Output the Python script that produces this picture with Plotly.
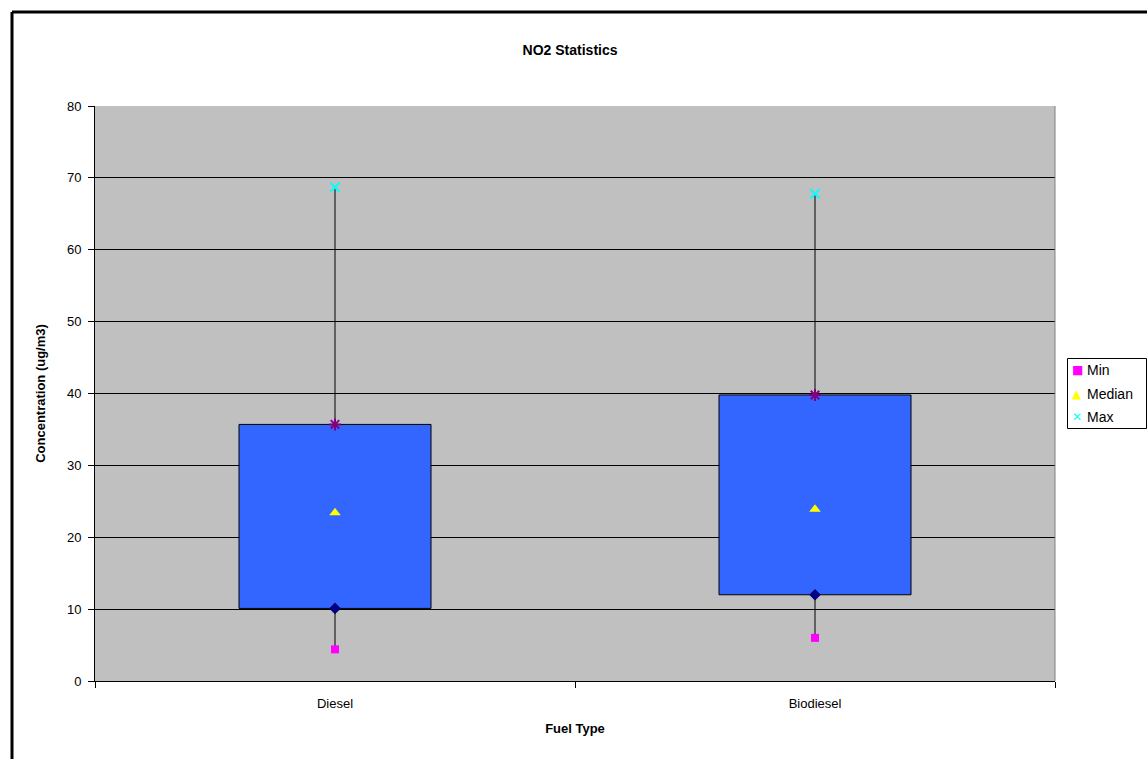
import plotly.graph_objects as go

# NO2 concentration summary per fuel type (ug/m3)
fuel_types = ["Diesel", "Biodiesel"]
min_vals = [4.4, 6.0]
q1_vals = [10.1, 12.0]
median_vals = [23.4, 23.9]
q3_vals = [35.7, 39.8]
max_vals = [68.7, 67.8]

y_ticks = [0, 10, 20, 30, 40, 50, 60, 70, 80]

legend_names = ["Min", "Median", "Max"]
legend_glyphs = ["■", "▲", "✕"]
legend_colors = ["#FF00FF", "#FFFF00", "#00FFFF"]

FONT = "Liberation Sans, Arial, sans-serif"
W, H = 1147, 759
ML, MR, MT, MB = 95, 92, 106, 78
PW, PH = W - ML - MR, H - MT - MB


def px_x(x):
    """Pixel column -> paper x."""
    return (x - ML) / PW


def px_y(y):
    """Pixel row -> paper y."""
    return (H - MB - y) / PH


fig = go.Figure()

# Interquartile box drawn as a floating column from Q1 to Q3
fig.add_trace(go.Bar(
    x=fuel_types,
    y=[q3 - q1 for q1, q3 in zip(q1_vals, q3_vals)],
    base=q1_vals,
    width=0.4,
    marker=dict(color="#3366FF", line=dict(color="#000000", width=1)),
    showlegend=False,
    hoverinfo="skip",
))

# Whiskers: Q1 down to min, Q3 up to max
for cat, lo, q1, q3, hi in zip(fuel_types, min_vals, q1_vals, q3_vals, max_vals):
    for a, b in ((lo, q1), (q3, hi)):
        fig.add_trace(go.Scatter(
            x=[cat, cat], y=[a, b], mode="lines",
            line=dict(color="#000000", width=1),
            showlegend=False, hoverinfo="skip",
        ))

# Quartile markers
fig.add_trace(go.Scatter(
    x=fuel_types, y=q1_vals, mode="markers", showlegend=False,
    marker=dict(symbol="diamond", color="#000080", size=9),
))
fig.add_trace(go.Scatter(
    x=fuel_types, y=q3_vals, mode="markers", showlegend=False,
    marker=dict(symbol="asterisk-open", color="#800080", size=10,
                line=dict(color="#800080", width=2)),
))

# Summary markers
fig.add_trace(go.Scatter(
    x=fuel_types, y=min_vals, mode="markers", name="Min", showlegend=False,
    marker=dict(symbol="square", color="#FF00FF", size=8),
))
fig.add_trace(go.Scatter(
    x=fuel_types, y=median_vals, mode="markers", name="Median", showlegend=False,
    marker=dict(symbol="triangle-up", color="#FFFF00", size=10),
))
fig.add_trace(go.Scatter(
    x=fuel_types, y=max_vals, mode="markers", name="Max", showlegend=False,
    marker=dict(symbol="x-thin-open", color="#00FFFF", size=9,
                line=dict(color="#00FFFF", width=2)),
))

fig.update_layout(
    width=W, height=H,
    margin=dict(l=ML, r=MR, t=MT, b=MB, autoexpand=False),
    paper_bgcolor="#FFFFFF",
    plot_bgcolor="#C0C0C0",
    font=dict(family=FONT, size=13, color="#000000"),
    title=dict(text="<b>NO2 Statistics</b>", x=0.497, xanchor="center",
               y=0.934, yanchor="middle", font=dict(size=14)),
    showlegend=False,
    bargap=0.6,
)

fig.update_xaxes(
    type="category",
    title=dict(text="<b>Fuel Type</b>", font=dict(size=13), standoff=14),
    showline=True, linecolor="#000000", linewidth=1,
    ticks="outside", tickson="boundaries", ticklen=6, tickcolor="#000000",
    ticklabelstandoff=10,
    showgrid=False, zeroline=False,
)
fig.update_yaxes(
    range=[0, 80],
    tickvals=y_ticks,
    title=dict(text="<b>Concentration (ug/m3)</b>", font=dict(size=13), standoff=18),
    showline=True, linecolor="#000000", linewidth=1,
    ticks="outside", ticklen=6, tickcolor="#000000",
    ticklabelstandoff=4,
    showgrid=True, gridcolor="#000000", gridwidth=1,
    zeroline=False,
)

# Right edge of the plot area
fig.add_shape(type="line", xref="paper", yref="paper",
              x0=1, x1=1, y0=0, y1=1,
              line=dict(color="#808080", width=1))

# Outer chart frame (top and left edges visible)
fig.add_shape(type="line", xref="paper", yref="paper",
              x0=px_x(12), x1=px_x(W + 5), y0=px_y(12), y1=px_y(12),
              line=dict(color="#000000", width=3))
fig.add_shape(type="line", xref="paper", yref="paper",
              x0=px_x(12), x1=px_x(12), y0=px_y(12), y1=px_y(H + 5),
              line=dict(color="#000000", width=3))

# Legend box with one row per summary series
fig.add_shape(type="rect", xref="paper", yref="paper",
              x0=px_x(1067.5), x1=px_x(1146.5), y0=px_y(428.5), y1=px_y(358.5),
              line=dict(color="#000000", width=1), fillcolor="#FFFFFF")
row_y = [370, 394, 417]
for name, glyph, color, yy in zip(legend_names, legend_glyphs, legend_colors, row_y):
    fig.add_annotation(xref="paper", yref="paper", x=px_x(1077), y=px_y(yy),
                       text=glyph, showarrow=False, xanchor="center", yanchor="middle",
                       font=dict(family="DejaVu Sans", size=12, color=color))
    fig.add_annotation(xref="paper", yref="paper", x=px_x(1085), y=px_y(yy),
                       text=name, showarrow=False, xanchor="left", yanchor="middle",
                       font=dict(size=14, color="#000000"))

fig.write_html("out.html")
